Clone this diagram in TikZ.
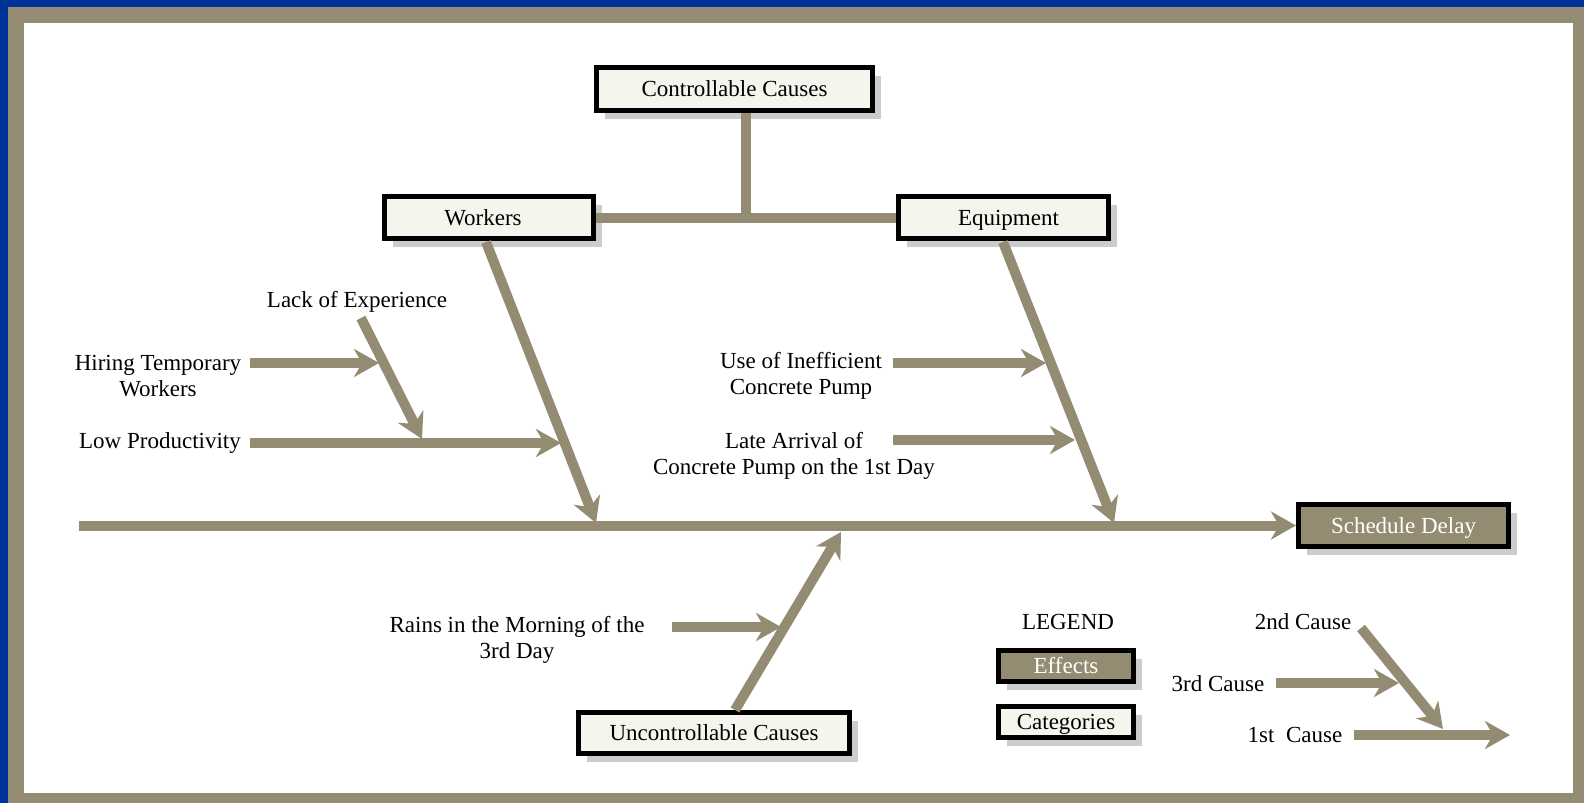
\documentclass[tikz,border=0pt]{standalone}
\usepackage{fontspec}
\setmainfont{Liberation Serif}
\usetikzlibrary{arrows.meta,shadows,calc}
\definecolor{khaki}{RGB}{148,140,114}
\definecolor{frameblue}{RGB}{0,51,153}
\definecolor{boxfill}{RGB}{245,245,238}
\definecolor{shade}{RGB}{204,204,204}
\begin{document}
\begin{tikzpicture}[x=1pt,y=-1pt,
  font=\fontsize{23}{26.5}\selectfont,
  bone/.style={draw=khaki,line width=10pt,-{Stealth[length=25pt,width=28pt,inset=8pt]}},
  plain/.style={draw=khaki,line width=10pt},
  catbox/.style={draw=black,line width=5pt,fill=boxfill,inner sep=0pt,
    text height=18pt,text depth=3pt,
    drop shadow={shadow xshift=8pt,shadow yshift=-8pt,fill=shade,opacity=1}},
  effbox/.style={catbox,fill=khaki,text=white},
  lbl/.style={align=center,inner sep=0pt}]
% frame
\fill[frameblue] (0,0) rectangle (1584,803);
\fill[khaki] (8,7) rectangle (1584,803);
\fill[white] (24,23) rectangle (1573,793);
\useasboundingbox (0,0) rectangle (1584,803);

% category boxes
\node[catbox,minimum width=276pt,minimum height=43pt] (ctrl) at (734.5,89) {Controllable Causes};
\node[catbox,minimum width=209pt,minimum height=42pt] (work) at (489,217.5) {\hspace*{-12pt}Workers};
\node[catbox,minimum width=210pt,minimum height=42pt] (equip) at (1003.5,217.5) {\hspace*{10pt}Equipment};
\node[catbox,minimum width=271pt,minimum height=41pt] (unctrl) at (714,733) {Uncontrollable Causes};
\node[effbox,minimum width=210pt,minimum height=42pt] (delay) at (1403.5,525.5) {Schedule Delay};

% cause labels
\node[lbl] (lack) at (357,302) {Lack of Experience};
\node[lbl] (hire) at (158,376) {Hiring Temporary\\Workers};
\node[lbl] (low) at (160,443) {Low Productivity};
\node[lbl] (pump) at (801,376) {Use of Inefficient\\Concrete Pump};
\node[lbl] (late) at (794,456) {Late Arrival of\\Concrete Pump on the 1st Day};
\node[lbl] (rain) at (517,640) {Rains in the Morning of the\\3rd Day};

% legend
\node[lbl] (legend) at (1068,622) {LEGEND};
\node[effbox,minimum width=135pt,minimum height=31pt] (eff) at (1066,666) {Effects};
\node[catbox,minimum width=135pt,minimum height=31pt] (cat) at (1066,722) {Categories};
\node[lbl] (c2) at (1303,622) {2nd Cause};
\node[lbl] (c3) at (1218,684) {3rd Cause};
\node[lbl] (c1) at (1295,735) {1st\ \ Cause};

% anchor points of the bones
\coordinate (tail) at (79,525.5);
\coordinate (cj) at (746,217);
\coordinate (wtop) at (486,242);
\coordinate (wtip) at (596,523);
\coordinate (etop) at (1003,242);
\coordinate (etip) at (1114,523);
\coordinate (utop) at (735,710);
\coordinate (utip) at (841,532);
\coordinate (ls) at (361,318);
\coordinate (le) at (422,439);
\coordinate (hs) at (250,363);
\coordinate (he) at (379,363);
\coordinate (lows) at (250,443);
\coordinate (lowe) at (561,443);
\coordinate (ps) at (893,363);
\coordinate (pe) at (1046,363);
\coordinate (las) at (893,440);
\coordinate (lae) at (1075,440);
\coordinate (rs) at (672,627);
\coordinate (re) at (781,627);
\coordinate (g2s) at (1361,628);
\coordinate (g2e) at (1443,729);
\coordinate (g3s) at (1276,683);
\coordinate (g3e) at (1399,683);
\coordinate (g1s) at (1354,735);
\coordinate (g1e) at (1510,735);

% spine and category links
\draw[plain] (work.east) -- (equip.west);
\draw[plain] (cj) -- (cj |- ctrl.south);
\draw[bone] (tail) -- (delay.west);
\draw[bone] (wtop) -- (wtip);
\draw[bone] (etop) -- (etip);
\draw[bone] (utop) -- (utip);

% cause arrows
\draw[bone] (ls) -- (le);
\draw[bone] (hs) -- (he);
\draw[bone] (lows) -- (lowe);
\draw[bone] (ps) -- (pe);
\draw[bone] (las) -- (lae);
\draw[bone] (rs) -- (re);

% legend arrows
\draw[bone] (g2s) -- (g2e);
\draw[bone] (g3s) -- (g3e);
\draw[bone] (g1s) -- (g1e);
\end{tikzpicture}
\end{document}
